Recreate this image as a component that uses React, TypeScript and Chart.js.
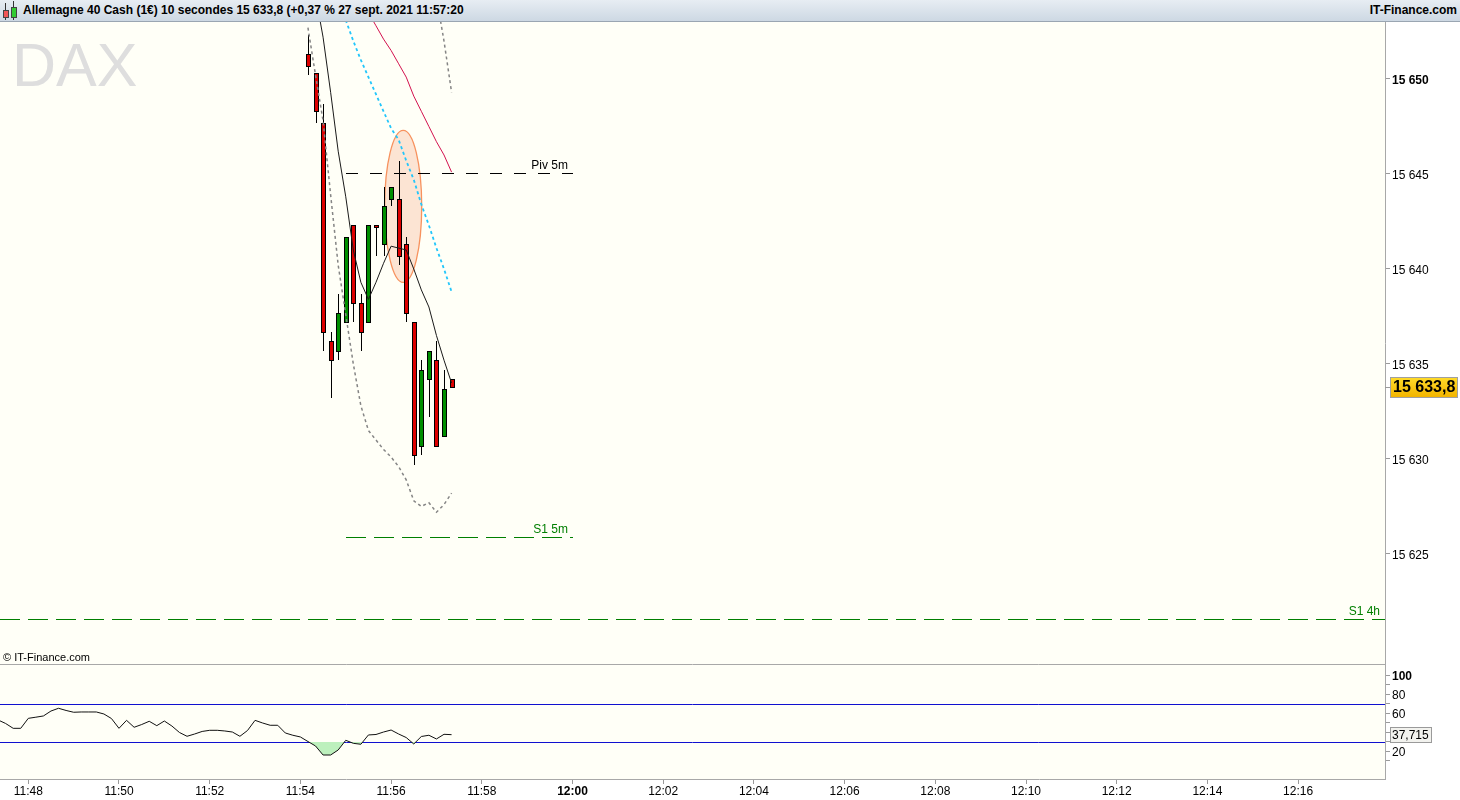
import React, { useEffect, useRef } from 'react';
import { Chart, registerables } from 'chart.js';

Chart.register(...registerables);

const FONT = '"Liberation Sans", Arial, Helvetica, sans-serif';

// ---------- Data: 10-second candles ----------
const candleTimes = ['11:54:10', '11:54:20', '11:54:30', '11:54:40', '11:54:50', '11:55:00', '11:55:10', '11:55:20', '11:55:30', '11:55:40', '11:55:50', '11:56:00', '11:56:10', '11:56:20', '11:56:30', '11:56:40', '11:56:50', '11:57:00', '11:57:10', '11:57:20'];
const openPrices = [15651.3, 15650.3, 15647.7, 15636.2, 15635.7, 15637.2, 15642.3, 15638.2, 15637.2, 15642.3, 15641.3, 15643.7, 15643.7, 15641.3, 15637.2, 15630.7, 15634.2, 15635.2, 15631.2, 15634.2];
const highPrices = [15652.3, 15650.3, 15648.7, 15636.7, 15638.7, 15641.7, 15642.3, 15638.7, 15642.3, 15642.3, 15644.3, 15644.3, 15645.7, 15641.7, 15637.2, 15635.2, 15635.7, 15636.2, 15634.7, 15634.2];
const lowPrices = [15650.2, 15647.7, 15635.7, 15633.2, 15635.2, 15637.2, 15637.2, 15635.7, 15637.2, 15640.7, 15640.7, 15643.3, 15640.2, 15637.2, 15629.7, 15630.2, 15632.2, 15630.7, 15631.2, 15633.8];
const closePrices = [15650.7, 15648.3, 15636.7, 15635.2, 15637.7, 15641.7, 15638.2, 15636.7, 15642.3, 15642.2, 15643.3, 15644.3, 15640.7, 15637.7, 15630.2, 15634.7, 15635.7, 15630.7, 15633.7, 15633.8];

// ---------- Indicator lines (per candle) ----------
const maValues = [15656.7, 15654.4, 15652.2, 15649.3, 15646.2, 15643.8, 15641.0, 15639.3, 15638.4, 15639.3, 15640.3, 15641.2, 15641.1, 15641.0, 15640.0, 15638.9, 15638.0, 15636.5, 15635.2, 15634.0];
const lowerBand = [15652.7, 15650.2, 15647.8, 15643.9, 15640.2, 15637.6, 15635.0, 15632.8, 15631.5, 15631.0, 15630.5, 15630.1, 15629.6, 15628.9, 15627.8, 15627.5, 15627.7, 15627.2, 15627.6, 15628.2];
const upperBand = [null, null, null, null, null, null, null, null, null, null, null, null, null, null, null, null, null, 15654.3, 15652.0, 15649.3];
const cyanLine = [null, null, null, null, null, 15653.1, 15652.0, 15651.0, 15650.1, 15649.2, 15648.3, 15647.4, 15646.8, 15645.7, 15644.7, 15643.4, 15642.3, 15641.1, 15640.0, 15638.8];
const crimsonLine = [null, null, null, null, null, null, null, null, 15653.5, 15652.8, 15652.1, 15651.5, 15650.8, 15650.1, 15649.1, 15648.3, 15647.5, 15646.7, 15646.0, 15645.1];

// ---------- Pivot levels ----------
const levelNames = ['Piv 5m', 'S1 5m', 'S1 4h'];
const levelValues = [15645.05, 15625.9, 15621.6];
const levelStarts = ['11:55:00', '11:55:00', ''];
const levelEnds = ['12:00:00', '12:00:00', ''];
const levelColors = ['#000000', '#007f00', '#007f00'];
const levelDashes = [[12, 12], [20, 8], [20, 8]];

// ---------- Highlight ellipse ----------
const ellipseCenterTime = '11:56:16';
const ellipseCenterPrice = 15643.3;
const ellipseHalfWidthSec = 24.5;
const ellipseHalfHeight = 4.0;

// ---------- Axes ----------
const priceTicks = [15625, 15630, 15635, 15640, 15645, 15650];
const priceBoldTick = 15650;
const timeTicks = ['11:48', '11:50', '11:52', '11:54', '11:56', '11:58', '12:00', '12:02', '12:04', '12:06', '12:08', '12:10', '12:12', '12:14', '12:16'];
const timeBoldTick = '12:00';

// ---------- RSI ----------
const rsiStart = '11:47:20';
const rsiValues = [53.2, 49.5, 44.4, 44.4, 54.9, 56.1, 57.4, 62.6, 65.5, 63.2, 61.3, 61.6, 61.6, 61.6, 59.5, 54.7, 44.4, 52.8, 45.5, 48.4, 51.8, 47.2, 52.1, 46.8, 40.0, 36.0, 38.4, 41.1, 42.3, 42.3, 41.6, 40.5, 36.0, 42.1, 52.8, 50.0, 47.6, 47.6, 39.5, 37.1, 35.3, 30.5, 25.8, 16.3, 16.3, 21.6, 31.8, 28.6, 27.6, 37.4, 37.9, 40.5, 42.6, 38.4, 34.7, 27.9, 35.8, 37.1, 33.2, 38.1, 37.715];
const rsiLevels = [70, 30];
const rsiTickValues = [10, 20, 30, 40, 50, 60, 70, 80, 90, 100];
const rsiLabelValues = [20, 60, 80, 100];
const rsiLastLabel = '37,715';

// ---------- Scale ranges ----------
const X_MIN = 47.376;
const X_MAX = 77.916;
const PRICE_MIN = 15619.21;
const PRICE_MAX = 15653.0;
const RSI_MIN = -8.95;
const RSI_MAX = 112.1;

const CREAM = '#fffff7';

const toMin = (t: string) => {
  const p = t.split(':').map(Number);
  return (p[0] - 11) * 60 + p[1] + (p[2] || 0) / 60;
};
const fmtInt = (v: number) => {
  const s = Math.round(v).toString();
  return s.length > 3 ? s.slice(0, s.length - 3) + ' ' + s.slice(-3) : s;
};
const fmtPrice = (v: number) => {
  const [i, d] = v.toFixed(1).split('.');
  return fmtInt(Number(i)) + ',' + d;
};

const fixY = (s: any) => {
  s.width = 75;
  s.paddingTop = 0;
  s.paddingBottom = 0;
};

export default function App() {
  const mainRef = useRef<HTMLCanvasElement | null>(null);
  const rsiRef = useRef<HTMLCanvasElement | null>(null);

  useEffect(() => {
    document.body.style.margin = '0';
    const xs = candleTimes.map(toMin);
    const lastClose = closePrices[closePrices.length - 1];

    const lineDs = (label: string, vals: (number | null)[], color: string, width: number, dash: number[], order: number) => ({
      type: 'line' as const,
      label,
      data: vals.map((v, i) => ({ x: xs[i], y: v })),
      borderColor: color,
      borderWidth: width,
      borderDash: dash,
      pointRadius: 0,
      tension: 0,
      spanGaps: false,
      fill: false,
      order,
    });

    const mainPlugin = {
      id: 'mainDeco',
      beforeDraw(chart: any) {
        const { ctx, chartArea: a } = chart;
        ctx.save();
        ctx.fillStyle = CREAM;
        ctx.fillRect(a.left, a.top, a.right - a.left, a.bottom - a.top);
        ctx.fillStyle = '#dedede';
        ctx.font = `61px ${FONT}`;
        ctx.textBaseline = 'alphabetic';
        ctx.textAlign = 'left';
        ctx.fillText('DAX', 12, 64);
        ctx.fillStyle = '#000';
        ctx.font = `11px ${FONT}`;
        ctx.fillText('\u00a9 IT-Finance.com', 3, a.bottom - 3);
        ctx.restore();
      },
      beforeDatasetsDraw(chart: any) {
        const { ctx, chartArea: a } = chart;
        const x = chart.scales.x;
        const y = chart.scales.y;
        // highlight ellipse
        const cm = toMin(ellipseCenterTime);
        const cx = x.getPixelForValue(cm);
        const cy = y.getPixelForValue(ellipseCenterPrice);
        const rx = Math.abs(x.getPixelForValue(cm + ellipseHalfWidthSec / 60) - cx);
        const ry = Math.abs(y.getPixelForValue(ellipseCenterPrice + ellipseHalfHeight) - cy);
        ctx.save();
        ctx.beginPath();
        ctx.ellipse(cx, cy, rx, ry, 0, 0, Math.PI * 2);
        ctx.fillStyle = 'rgba(245,165,130,0.3)';
        ctx.fill();
        ctx.strokeStyle = '#f7925e';
        ctx.lineWidth = 1.3;
        ctx.stroke();
        ctx.restore();

        // pivot levels with labels
        ctx.save();
        ctx.beginPath();
        ctx.rect(a.left, a.top, a.right - a.left, a.bottom - a.top);
        ctx.clip();
        ctx.lineWidth = 1;
        ctx.font = `12px ${FONT}`;
        ctx.textAlign = 'right';
        ctx.textBaseline = 'alphabetic';
        levelNames.forEach((name, i) => {
          const x0 = Math.round(x.getPixelForValue(levelStarts[i] ? toMin(levelStarts[i]) : X_MIN));
          const x1 = Math.round(x.getPixelForValue(levelEnds[i] ? toMin(levelEnds[i]) : X_MAX));
          const py = Math.round(y.getPixelForValue(levelValues[i])) + 0.5;
          ctx.strokeStyle = levelColors[i];
          ctx.setLineDash(levelDashes[i]);
          ctx.beginPath();
          ctx.moveTo(x0, py);
          ctx.lineTo(x1, py);
          ctx.stroke();
          ctx.fillStyle = levelColors[i];
          ctx.fillText(name, x1 - 5, py - 4.5);
        });
        ctx.restore();

        // candles: wicks then bodies
        ctx.save();
        ctx.beginPath();
        ctx.rect(a.left, a.top, a.right - a.left, a.bottom - a.top);
        ctx.clip();
        xs.forEach((t, i) => {
          const px = Math.round(x.getPixelForValue(t));
          const yH = Math.round(y.getPixelForValue(highPrices[i]));
          const yL = Math.round(y.getPixelForValue(lowPrices[i]));
          ctx.fillStyle = '#000';
          ctx.fillRect(px, yH, 1, Math.max(1, yL - yH));
        });
        xs.forEach((t, i) => {
          const px = Math.round(x.getPixelForValue(t));
          const yo = Math.round(y.getPixelForValue(openPrices[i]));
          const yc = Math.round(y.getPixelForValue(closePrices[i]));
          const top = Math.min(yo, yc);
          const h = Math.abs(yo - yc);
          const up = closePrices[i] >= openPrices[i];
          ctx.fillStyle = '#000';
          ctx.fillRect(px - 2, top, 5, Math.max(1, h + 1));
          if (h >= 2) {
            ctx.fillStyle = up ? '#008f00' : '#dd0000';
            ctx.fillRect(px - 1, top + 1, 3, h - 1);
          }
        });
        ctx.restore();
      },
      afterDraw(chart: any) {
        const { ctx, chartArea: a } = chart;
        const y = chart.scales.y;
        const py = Math.round(y.getPixelForValue(lastClose));
        ctx.save();
        ctx.strokeStyle = '#9a9a9a';
        ctx.beginPath();
        ctx.moveTo(a.right, py + 0.5);
        ctx.lineTo(a.right + 5, py + 0.5);
        ctx.stroke();
        const bx = 1390, bw = 67, bh = 20, by = py - 10;
        const g = ctx.createLinearGradient(0, by, 0, by + bh);
        g.addColorStop(0, '#ffdc2a');
        g.addColorStop(1, '#f2b400');
        ctx.fillStyle = g;
        ctx.fillRect(bx, by, bw, bh);
        ctx.strokeStyle = '#a0a0a0';
        ctx.strokeRect(bx + 0.5, by + 0.5, bw, bh);
        ctx.fillStyle = '#000';
        ctx.font = `bold 16px ${FONT}`;
        ctx.textAlign = 'left';
        ctx.textBaseline = 'middle';
        ctx.fillText(fmtPrice(lastClose), bx + 3, py + 1);
        ctx.restore();
      },
    };

    const mainChart = new Chart(mainRef.current as HTMLCanvasElement, {
      type: 'line',
      data: {
        datasets: [
          lineDs('MA', maValues, '#1a1a1a', 1, [], 1),
          lineDs('Lower', lowerBand, '#858585', 1.5, [3, 3], 2),
          lineDs('Upper', upperBand, '#858585', 1.5, [3, 3], 2),
          lineDs('Cyan', cyanLine, '#22c6fb', 1.8, [3, 3], 3),
          lineDs('Crimson', crimsonLine, '#d3124f', 1, [], 4),
        ] as any,
      },
      options: {
        responsive: false,
        animation: false,
        events: [],
        layout: { padding: 0 },
        plugins: { legend: { display: false }, tooltip: { enabled: false } },
        scales: {
          x: { type: 'linear', min: X_MIN, max: X_MAX, display: false, bounds: 'data', offset: false },
          y: {
            type: 'linear',
            position: 'right',
            min: PRICE_MIN,
            max: PRICE_MAX,
            bounds: 'data',
            afterFit: fixY,
            afterBuildTicks: (s: any) => {
              s.ticks = priceTicks.map((v) => ({ value: v }));
            },
            ticks: {
              autoSkip: false,
              callback: (v: any) => fmtInt(Number(v)),
              color: '#000',
              padding: 2,
              labelOffset: 2,
              font: (c: any) => ({ family: FONT, size: 12, weight: c.tick && c.tick.value === priceBoldTick ? 'bold' : 'normal' }),
            },
            grid: { drawOnChartArea: false, tickLength: 5, color: '#9a9a9a' },
            border: { color: '#a8a8a8' },
          },
        },
      } as any,
      plugins: [mainPlugin],
    });

    const rsiStartMin = toMin(rsiStart);
    const rsiPlugin = {
      id: 'rsiDeco',
      beforeDraw(chart: any) {
        const { ctx, chartArea: a } = chart;
        ctx.save();
        ctx.fillStyle = CREAM;
        ctx.fillRect(a.left, a.top, a.right - a.left, a.bottom - a.top);
        ctx.strokeStyle = '#a8a8a8';
        ctx.beginPath();
        ctx.moveTo(a.left, a.top + 0.5);
        ctx.lineTo(a.right, a.top + 0.5);
        ctx.stroke();
        ctx.restore();
      },
      beforeDatasetsDraw(chart: any) {
        const { ctx, chartArea: a } = chart;
        const y = chart.scales.y;
        ctx.save();
        ctx.strokeStyle = '#1010d0';
        ctx.lineWidth = 1;
        rsiLevels.forEach((lv) => {
          const py = Math.round(y.getPixelForValue(lv)) + 0.5;
          ctx.beginPath();
          ctx.moveTo(a.left, py);
          ctx.lineTo(a.right, py);
          ctx.stroke();
        });
        ctx.restore();
      },
      afterDraw(chart: any) {
        const { ctx } = chart;
        const y = chart.scales.y;
        const last = rsiValues[rsiValues.length - 1];
        const py = Math.round(y.getPixelForValue(last));
        ctx.save();
        const bx = 1390, bw = 41, bh = 15, by = py - 8;
        ctx.fillStyle = '#f2f2ee';
        ctx.fillRect(bx, by, bw, bh);
        ctx.strokeStyle = '#9a9a9a';
        ctx.strokeRect(bx + 0.5, by + 0.5, bw, bh);
        ctx.fillStyle = '#000';
        ctx.font = `12px ${FONT}`;
        ctx.textAlign = 'left';
        ctx.textBaseline = 'middle';
        ctx.fillText(rsiLastLabel, bx + 2, py + 1);
        ctx.restore();
      },
    };

    const rsiChart = new Chart(rsiRef.current as HTMLCanvasElement, {
      type: 'line',
      data: {
        datasets: [
          {
            label: 'RSI',
            data: rsiValues.map((v, i) => ({ x: rsiStartMin + i / 6, y: v })),
            borderColor: '#111',
            borderWidth: 1,
            pointRadius: 0,
            tension: 0,
            fill: { target: { value: 30 }, above: 'rgba(0,0,0,0)', below: '#bdf0bd' },
          },
        ] as any,
      },
      options: {
        responsive: false,
        animation: false,
        events: [],
        layout: { padding: 0 },
        plugins: { legend: { display: false }, tooltip: { enabled: false } },
        scales: {
          x: {
            type: 'linear',
            min: X_MIN,
            max: X_MAX,
            bounds: 'data',
            offset: false,
            afterBuildTicks: (s: any) => {
              s.ticks = timeTicks.map((t) => ({ value: toMin(t) }));
            },
            afterFit: (s: any) => {
              s.height = 21;
              s.paddingLeft = 0;
              s.paddingRight = 0;
            },
            ticks: {
              autoSkip: false,
              maxRotation: 0,
              padding: 0,
              color: '#000',
              callback: (_v: any, i: number) => timeTicks[i],
              font: (c: any) => ({ family: FONT, size: 12, weight: timeTicks[c.index] === timeBoldTick ? 'bold' : 'normal' }),
            },
            grid: { drawOnChartArea: false, tickLength: 5, color: '#9a9a9a' },
            border: { color: '#a8a8a8' },
          },
          y: {
            type: 'linear',
            position: 'right',
            min: RSI_MIN,
            max: RSI_MAX,
            bounds: 'data',
            afterFit: fixY,
            afterBuildTicks: (s: any) => {
              s.ticks = rsiTickValues.map((v) => ({ value: v }));
            },
            ticks: {
              autoSkip: false,
              padding: 2,
              labelOffset: 1,
              color: '#000',
              callback: (v: any) => (rsiLabelValues.includes(Number(v)) ? String(v) : ''),
              font: (c: any) => ({ family: FONT, size: 12, weight: c.tick && c.tick.value === 100 ? 'bold' : 'normal' }),
            },
            grid: { drawOnChartArea: false, tickLength: 5, color: '#9a9a9a' },
            border: { color: '#a8a8a8' },
          },
        },
      } as any,
      plugins: [rsiPlugin],
    });

    return () => {
      mainChart.destroy();
      rsiChart.destroy();
    };
  }, []);

  return (
    <div style={{ position: 'absolute', left: 0, top: 0, width: 1460, height: 800, background: '#fff', fontFamily: FONT, overflow: 'hidden' }}>
      <div
        style={{
          position: 'absolute',
          left: 0,
          top: 0,
          width: 1460,
          height: 21,
          background: 'linear-gradient(#e7edf3, #cdd8e3)',
          borderBottom: '1px solid #9aa6b2',
        }}
      >
        <div style={{ position: 'absolute', left: 5, top: 3, width: 1, height: 17, background: '#333' }} />
        <div style={{ position: 'absolute', left: 3, top: 10, width: 4, height: 6, background: '#f05555', border: '1px solid #444' }} />
        <div style={{ position: 'absolute', left: 13, top: 1, width: 1, height: 19, background: '#333' }} />
        <div style={{ position: 'absolute', left: 11, top: 7, width: 4, height: 9, background: '#33cc33', border: '1px solid #444' }} />
        <div style={{ position: 'absolute', left: 23, top: 0, lineHeight: '21px', fontSize: 12, fontWeight: 'bold', color: '#000', whiteSpace: 'nowrap' }}>
          Allemagne 40 Cash (1€) 10 secondes 15 633,8 (+0,37 % 27 sept. 2021 11:57:20
        </div>
        <div style={{ position: 'absolute', right: 3, top: 0, lineHeight: '21px', fontSize: 12, fontWeight: 'bold', color: '#000', whiteSpace: 'nowrap' }}>
          IT-Finance.com
        </div>
      </div>
      <canvas ref={mainRef} width={1460} height={642} style={{ position: 'absolute', left: 0, top: 22, width: 1460, height: 642 }} />
      <canvas ref={rsiRef} width={1460} height={136} style={{ position: 'absolute', left: 0, top: 664, width: 1460, height: 136 }} />
    </div>
  );
}
